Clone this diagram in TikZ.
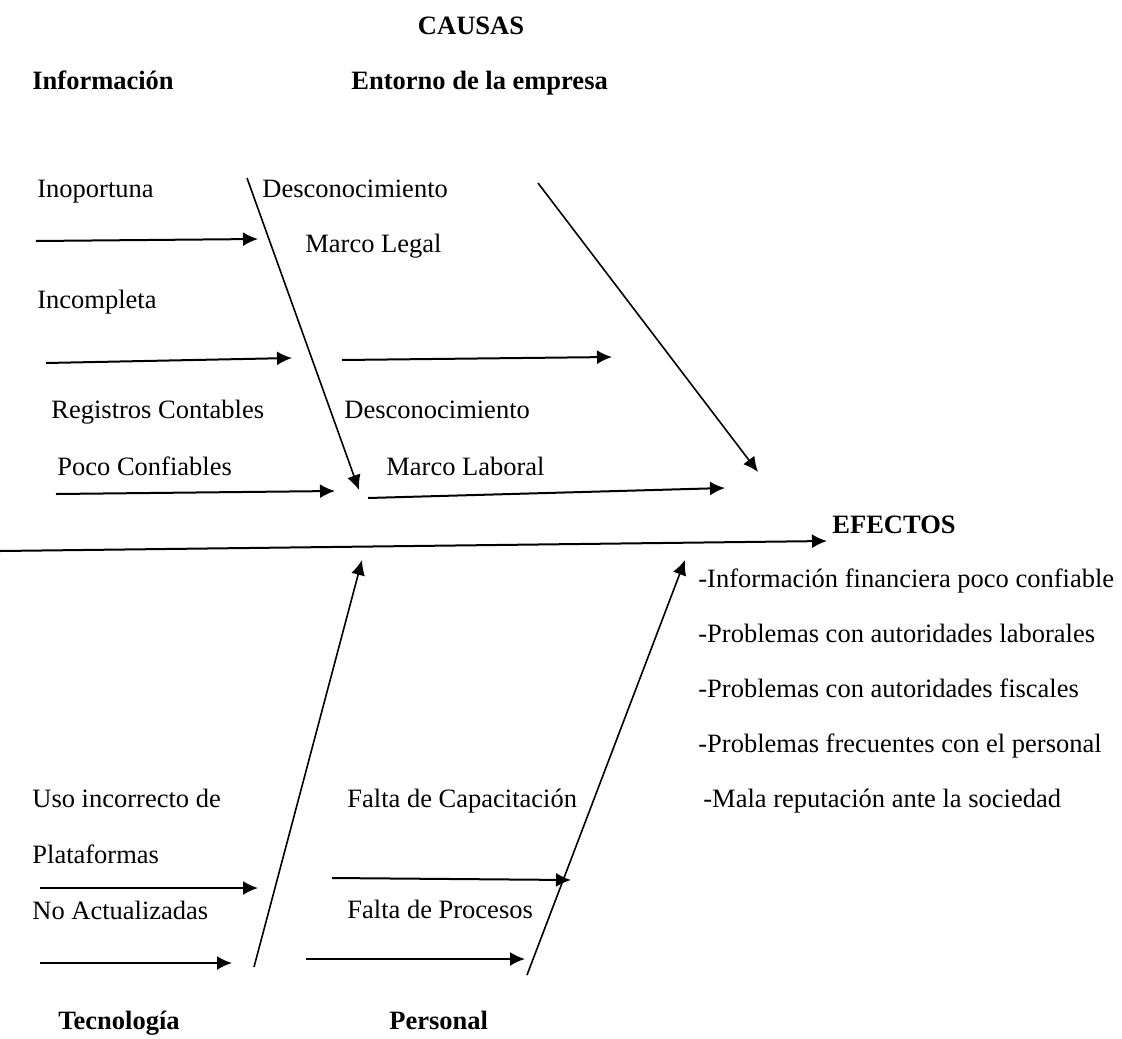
\documentclass[tikz,border=0pt]{standalone}
\usepackage{fontspec}
\setmainfont{Liberation Serif}[BoldFont={Liberation Serif Bold}]
\usetikzlibrary{arrows.meta}
\begin{document}
\begin{tikzpicture}[x=0.5pt,y=-0.5pt,
  txt/.style={anchor=base west,inner sep=0pt,font=\fontsize{13.25pt}{15pt}\selectfont},
  ttl/.style={txt,font=\fontsize{13.25pt}{15pt}\selectfont\bfseries},
  arr/.style={line width=1pt,-{Latex[length=7.5pt,width=7pt]}},
  diag/.style={line width=0.8pt,-{Latex[length=7.5pt,width=7pt]}}]
\useasboundingbox (0,0) rectangle (1122,1038);
% titles
\node[ttl,anchor=base] (causas) at (471,35) {CAUSAS};
\node[ttl] (info) at (32,90) {Información};
\node[ttl] (entorno) at (351,90) {Entorno de la empresa};
\node[ttl] (efectos) at (832,533) {EFECTOS};
\node[ttl] (tecno) at (58,1029) {Tecnología};
\node[ttl] (pers) at (389,1029) {Personal};
% cause labels
\node[txt] (inop) at (37,197) {Inoportuna};
\node[txt] (desc1) at (262,197) {Desconocimiento};
\node[txt] (mlegal) at (305,252) {Marco Legal};
\node[txt] (incomp) at (37,308) {Incompleta};
\node[txt] (regis) at (51,418) {Registros Contables};
\node[txt] (desc2) at (344,418) {Desconocimiento};
\node[txt] (poco) at (57,475) {Poco Confiables};
\node[txt] (mlab) at (386,475) {Marco Laboral};
\node[txt] (uso) at (32,807) {Uso incorrecto de};
\node[txt] (plat) at (32,863) {Plataformas};
\node[txt] (noact) at (32,919) {No Actualizadas};
\node[txt] (fcap) at (347,807) {Falta de Capacitación};
\node[txt] (fproc) at (347,918) {Falta de Procesos};
% effects
\node[txt] (e1) at (698,587) {-Información financiera poco confiable};
\node[txt] (e2) at (698,642) {-Problemas con autoridades laborales};
\node[txt] (e3) at (698,697) {-Problemas con autoridades fiscales};
\node[txt] (e4) at (698,752) {-Problemas frecuentes con el personal};
\node[txt] (e5) at (703,807) {-Mala reputación ante la sociedad};
% coordinates
\coordinate (a1s) at (36,241);  \coordinate (a1e) at (258,239);
\coordinate (a2s) at (46,363);  \coordinate (a2e) at (292,358);
\coordinate (a3s) at (342,360); \coordinate (a3e) at (612,357);
\coordinate (a4s) at (56,494);  \coordinate (a4e) at (335,491);
\coordinate (d1s) at (247,178); \coordinate (d1e) at (359,490);
\coordinate (a5s) at (368,498); \coordinate (a5e) at (725,488);
\coordinate (d2s) at (538,183); \coordinate (d2e) at (758,472);
\coordinate (sps) at (0,551);   \coordinate (spe) at (827,541);
\coordinate (b1s) at (254,967); \coordinate (b1e) at (362,560);
\coordinate (b2s) at (527,975); \coordinate (b2e) at (685,560);
\coordinate (a6s) at (40,888);  \coordinate (a6e) at (258,888);
\coordinate (a7s) at (40,963);  \coordinate (a7e) at (232,963);
\coordinate (a8s) at (332,878); \coordinate (a8e) at (571,880);
\coordinate (a9s) at (306,959); \coordinate (a9e) at (525,959);
% connectors
\draw[arr] (a1s) -- (a1e);
\draw[arr] (a2s) -- (a2e);
\draw[arr] (a3s) -- (a3e);
\draw[arr] (a4s) -- (a4e);
\draw[diag] (d1s) -- (d1e);
\draw[arr] (a5s) -- (a5e);
\draw[diag] (d2s) -- (d2e);
\draw[arr] (sps) -- (spe);
\draw[diag] (b1s) -- (b1e);
\draw[diag] (b2s) -- (b2e);
\draw[arr] (a6s) -- (a6e);
\draw[arr] (a7s) -- (a7e);
\draw[arr] (a8s) -- (a8e);
\draw[arr] (a9s) -- (a9e);
\end{tikzpicture}
\end{document}
